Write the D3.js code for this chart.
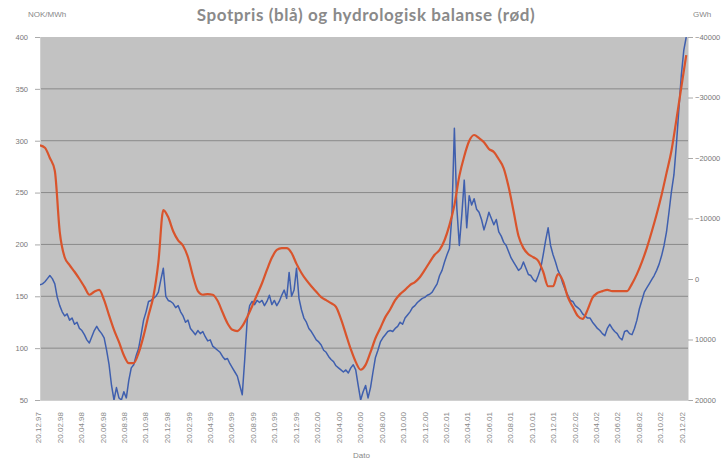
<!DOCTYPE html>
<html><head><meta charset="utf-8">
<script src="https://cdn.jsdelivr.net/npm/d3@7/dist/d3.min.js"></script>
<style>body{margin:0;background:#fff}svg{display:block}</style>
</head><body>
<svg id="c" width="725" height="462"></svg>
<script>
// ---- data ----
const startDate = "1997-12-25";
const endDate = "2003-01-07";
const spotStepDays = 7;     // weekly spot price
const hydroStepDays = 14;   // fortnightly hydrological balance
const spotprisNOK = [161,162,164,167,170,167,162,149,141,135,131,133,127,129,123,125,119,117,113,108,105,111,117,121,117,114,110,98,84,64,50,62,52,50,58,52,69,81,84,93,100,113,127,135,145,146,148,150,154,166,177,150,146,145,143,139,141,135,131,125,127,119,116,113,117,114,116,111,107,108,102,100,98,96,92,89,90,85,81,77,73,64,55,89,127,141,145,142,146,144,146,141,145,151,142,146,141,145,151,156,148,173,150,156,177,148,137,129,125,119,116,112,108,106,103,98,96,92,89,87,83,81,79,77,79,76,81,84,79,64,50,58,64,52,62,77,91,98,106,110,113,116,117,116,119,121,125,123,129,132,135,139,141,144,146,148,149,151,152,154,158,162,170,175,183,190,196,228,312,235,199,228,262,216,247,238,244,234,231,224,214,222,231,225,219,224,212,208,202,199,193,187,183,179,175,177,183,177,171,170,166,164,170,177,190,204,216,199,190,183,175,170,162,156,151,146,145,141,139,137,133,131,129,129,125,122,119,117,114,112,119,123,119,116,114,110,108,116,117,114,113,119,127,138,146,154,158,162,166,170,175,181,189,199,212,231,251,267,296,330,363,387,400];
const hydroBalanseGWh = [-22100,-21700,-20000,-17900,-7800,-3600,-2300,-1200,0,1300,2600,2100,1800,3500,6000,8400,10400,12600,13900,13900,12200,9400,6000,2800,-2800,-11400,-10200,-7900,-6400,-5500,-3600,-500,2000,2600,2500,2600,3600,5500,7300,8400,8600,7800,6300,4500,2600,700,-1500,-3500,-4800,-5100,-5100,-4300,-2500,-1000,200,1200,2100,3000,3500,4000,4600,6600,9100,11600,13700,15000,14200,12100,9800,8100,6300,5000,3500,2500,1800,1000,500,-300,-1500,-2800,-4000,-4800,-6400,-8900,-12200,-17000,-20300,-22800,-23800,-23300,-22600,-21500,-21000,-19800,-18300,-15200,-11200,-7100,-5100,-4100,-3600,-3000,-1200,1200,1200,-800,300,3000,4600,6100,6600,5100,3100,2300,2000,1800,2000,2000,2000,2000,800,-800,-2800,-5100,-7800,-10700,-13900,-17500,-21200,-26300,-31700,-37000];
const leftTicks = [50,100,150,200,250,300,350,400];
const rightTicks = [20000,10000,0,-10000,-20000,-30000,-40000];
const xTickDates = ["20.12.97","20.02.98","20.04.98","20.06.98","20.08.98","20.10.98","20.12.98","20.02.99","20.04.99","20.06.99","20.08.99","20.10.99","20.12.99","20.02.00","20.04.00","20.06.00","20.08.00","20.10.00","20.12.00","20.02.01","20.04.01","20.06.01","20.08.01","20.10.01","20.12.01","20.02.02","20.04.02","20.06.02","20.08.02","20.10.02","20.12.02"];
const titleText = "Spotpris (blå) og hydrologisk balanse (rød)";
const leftUnit = "NOK/MWh", rightUnit = "GWh", xTitle = "Dato";

// ---- layout ----
const L=40, R=688, T=37, B=400;
const FONT="Arial, 'Liberation Sans', sans-serif";
const svg=d3.select("#c");
const parseISO=d3.timeParse("%Y-%m-%d"), parseLbl=d3.timeParse("%d.%m.%y");
const t0=parseISO(startDate), t1=parseISO(endDate);
const spotDates=spotprisNOK.map((_,i)=>d3.timeDay.offset(t0,i*spotStepDays));
const hydroDates=hydroBalanseGWh.map((_,i)=>d3.timeDay.offset(t0,i*hydroStepDays));
const x=d3.scaleTime().domain([t0,t1]).range([L,R]);
const yL=d3.scaleLinear().domain([50,400]).range([B,T]);
const yR=d3.scaleLinear().domain([20000,-40000]).range([B,T]);

svg.append("rect").attr("x",L).attr("y",T).attr("width",R-L).attr("height",B-T).attr("fill","#c2c2c2");
svg.append("g").selectAll("line").data(leftTicks.slice(1,-1)).join("line")
 .attr("x1",L).attr("x2",R).attr("y1",d=>yL(d)).attr("y2",d=>yL(d)).attr("stroke","#8a8a8a").attr("stroke-width",1);

// left axis
const gl=svg.append("g").attr("transform",`translate(${L},0)`)
 .call(d3.axisLeft(yL).tickValues(leftTicks).tickSize(5).tickPadding(7).tickFormat(d3.format("d")));
gl.select(".domain").attr("stroke","#d0d0d0");
gl.selectAll(".tick line").attr("stroke","#aaa");
gl.selectAll("text").attr("font-family",FONT).attr("font-size",7.5).attr("fill","#777");

// right axis
const gr=svg.append("g").attr("transform",`translate(${R},0)`)
 .call(d3.axisRight(yR).tickValues(rightTicks).tickSize(5).tickPadding(2).tickFormat(d3.format("d")));
gr.select(".domain").attr("stroke","#e0e0e0");
gr.selectAll(".tick line").attr("stroke","#aaa");
gr.selectAll("text").attr("font-family",FONT).attr("font-size",7.5).attr("fill","#777");

// bottom axis
const gx=svg.append("g").attr("transform",`translate(0,${B})`)
 .call(d3.axisBottom(x).tickValues(xTickDates.map(parseLbl)).tickSize(0).tickFormat(d3.timeFormat("%d.%m.%y")));
gx.select(".domain").attr("stroke","#d0d0d0");
gx.selectAll("text").attr("font-family",FONT).attr("font-size",8).attr("fill","#888")
 .attr("transform","rotate(-90)").attr("text-anchor","end").attr("dx",0).attr("dy","0.33em").attr("x",-12).attr("y",0);

// lines
svg.append("clipPath").attr("id","pc").append("rect").attr("x",L).attr("y",T).attr("width",R-L).attr("height",B-T);
const lineL=d3.line().x((d,i)=>x(spotDates[i])).y(d=>yL(d));
const lineR=d3.line().x((d,i)=>x(hydroDates[i])).y(d=>yR(d)).curve(d3.curveMonotoneX);
svg.append("path").datum(spotprisNOK).attr("d",lineL).attr("fill","none").attr("stroke","#3f5fae").attr("stroke-width",1.5).attr("stroke-linejoin","round").attr("clip-path","url(#pc)");
svg.append("path").datum(hydroBalanseGWh).attr("d",lineR).attr("fill","none").attr("stroke","#d9542c").attr("stroke-width",2.2).attr("stroke-linejoin","round").attr("clip-path","url(#pc)");

// titles
svg.append("text").attr("x",366).attr("y",21).attr("text-anchor","middle").attr("font-family","Lato, 'Open Sans', sans-serif").attr("font-weight","bold").attr("font-size",17).attr("letter-spacing",0.6).attr("fill","#8a8a8a").text(titleText);
svg.append("text").attr("x",28).attr("y",17).attr("font-family",FONT).attr("font-size",8).attr("fill","#888").text(leftUnit);
svg.append("text").attr("x",693).attr("y",17).attr("font-family",FONT).attr("font-size",8).attr("fill","#888").text(rightUnit);
svg.append("text").attr("x",353).attr("y",458).attr("font-family",FONT).attr("font-size",8).attr("fill","#888").text(xTitle);
</script>
</body></html>
